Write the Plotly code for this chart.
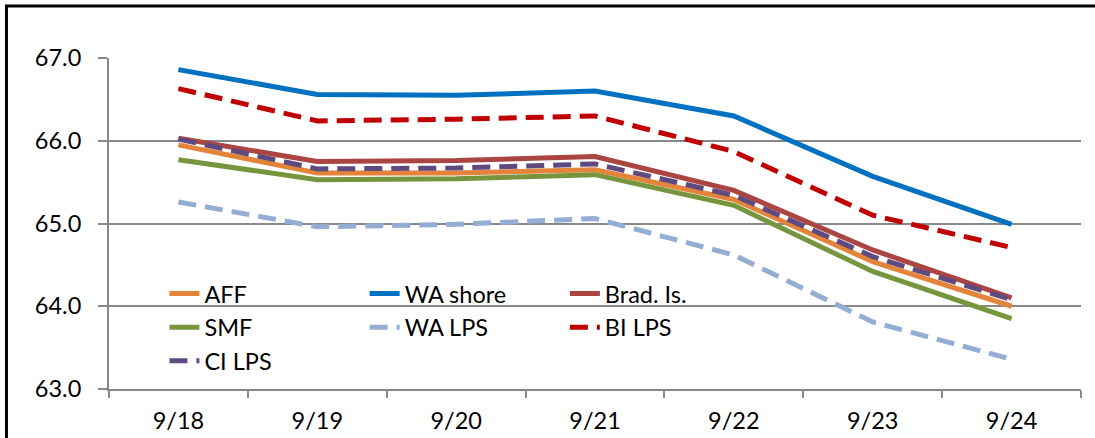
import plotly.graph_objects as go

dates = ["9/18", "9/19", "9/20", "9/21", "9/22", "9/23", "9/24"]

aff      = [65.95, 65.61, 65.61, 65.65, 65.29, 64.54, 64.00]
wa_shore = [66.86, 66.56, 66.55, 66.60, 66.30, 65.57, 64.99]
brad_is  = [66.03, 65.75, 65.76, 65.81, 65.40, 64.68, 64.10]
smf      = [65.77, 65.53, 65.54, 65.59, 65.22, 64.42, 63.85]
wa_lps   = [65.26, 64.96, 64.99, 65.06, 64.62, 63.81, 63.36]
bi_lps   = [66.63, 66.24, 66.26, 66.30, 65.87, 65.10, 64.71]
ci_lps   = [66.02, 65.66, 65.67, 65.72, 65.34, 64.60, 64.08]

series = [
    ("AFF", aff, "#E3843A", "solid", "legend"),
    ("WA shore", wa_shore, "#0070C0", "solid", "legend2"),
    ("Brad. Is.", brad_is, "#AA4542", "solid", "legend3"),
    ("SMF", smf, "#77953D", "solid", "legend"),
    ("WA LPS", wa_lps, "#93ADD5", "18px,9px", "legend2"),
    ("BI LPS", bi_lps, "#C00000", "18px,9px", "legend3"),
    ("CI LPS", ci_lps, "#5E4A7E", "18px,9px", "legend"),
]

FONT = "Lato"
GRAY = "#888888"
FS = 23.5

fig = go.Figure()
for name, vals, color, dash, leg in series:
    fig.add_trace(go.Scatter(
        x=dates, y=vals, name=name, mode="lines",
        line=dict(color=color, width=5, dash=dash),
        legend=leg,
    ))

legend_common = dict(
    bgcolor="rgba(0,0,0,0)", borderwidth=0, orientation="v",
    font=dict(family=FONT, size=FS, color="#000000"),
    xanchor="left", yanchor="top", tracegroupgap=0,
    traceorder="normal",
)

fig.update_layout(
    width=1095, height=438,
    margin=dict(l=109, r=14, t=58, b=49, autoexpand=False),
    paper_bgcolor="white", plot_bgcolor="white",
    font=dict(family=FONT, size=FS, color="#000000"),
    showlegend=True,
    legend=dict(x=0.057, y=0.354, **legend_common),
    legend2=dict(x=0.263, y=0.354, **legend_common),
    legend3=dict(x=0.469, y=0.354, **legend_common),
    xaxis=dict(
        type="category", range=[-0.5, 6.5], showgrid=False, showline=True,
        linecolor=GRAY, linewidth=2, automargin=False,
        ticks="outside", tickson="boundaries", ticklen=7, tickwidth=2, tickcolor=GRAY,
        tickfont=dict(family=FONT, size=FS, color="#000000"), ticklabelstandoff=10,
        zeroline=False,
    ),
    yaxis=dict(
        range=[63, 67], dtick=1, tickformat=".1f", showgrid=True, gridcolor=GRAY,
        gridwidth=2, showline=True, linecolor=GRAY, linewidth=2, automargin=False,
        ticks="outside", ticklen=9, tickwidth=2, tickcolor=GRAY,
        tickfont=dict(family=FONT, size=FS, color="#000000"), ticklabelstandoff=12,
        zeroline=False,
    ),
)

# outer chart frame (partially cropped in the reference)
fig.add_shape(type="rect", xref="paper", yref="paper",
              x0=-0.1055, x1=1.2, y0=-0.3, y1=1.157,
              line=dict(color="#000000", width=3), fillcolor="rgba(0,0,0,0)", layer="below")

fig.write_html("out.html", config={"displayModeBar": False},
               post_script="document.body.style.margin='0';")
